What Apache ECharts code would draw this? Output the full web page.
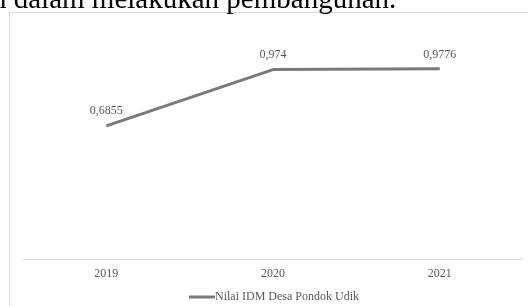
<!DOCTYPE html>
<html>
<head>
<meta charset="utf-8">
<script src="https://cdn.jsdelivr.net/npm/echarts@6/dist/echarts.min.js"></script>
<style>
  html, body { margin: 0; padding: 0; background: #fff; overflow: hidden; }
  #wrap { position: relative; width: 528px; height: 306px; overflow: hidden; }
  #caption {
    position: absolute; left: -8px; top: -16px;
    font-family: "Liberation Serif", serif; font-size: 29px; line-height: 28px;
    color: #000; white-space: nowrap;
  }
  #chart { position: absolute; left: 0; top: 0; width: 528px; height: 306px; }
</style>
</head>
<body>
<div id="wrap">
  <div id="chart"></div>
  <div id="caption">n dalam melakukan pembangunan.</div>
</div>
<script>
// data
const years = ['2019', '2020', '2021']
const idmValues = [0.6855, 0.974, 0.9776]
const seriesName = 'Nilai IDM Desa Pondok Udik'

const font = 'Liberation Serif'
const chart = echarts.init(document.getElementById('chart'))

chart.setOption({
  animation: false,
  graphic: [{
    type: 'rect',
    shape: { x: 9.5, y: 12.5, width: 700, height: 400 },
    style: { fill: 'none', stroke: '#d9d9d9', lineWidth: 1 },
    silent: true
  }],
  grid: { left: 23, right: 5, top: 25.5, bottom: 46.5 },
  legend: {
    data: [seriesName],
    left: 184,
    top: 286,
    icon: 'rect',
    itemWidth: 26,
    itemHeight: 3,
    textStyle: { fontFamily: font, fontSize: 12, color: '#595959', padding: [0, 0, 0, -5] }
  },
  xAxis: {
    type: 'category',
    data: years,
    boundaryGap: true,
    axisLine: { lineStyle: { color: '#d9d9d9' } },
    axisTick: { show: false },
    axisLabel: { fontFamily: font, fontSize: 12, color: '#595959', margin: 8 }
  },
  yAxis: {
    type: 'value',
    min: 0,
    max: 1.2,
    show: false,
    splitLine: { show: false }
  },
  series: [{
    name: seriesName,
    type: 'line',
    data: idmValues,
    symbol: 'circle',
    symbolSize: 1,
    showSymbol: true,
    lineStyle: { color: '#7a7a7a', width: 3 },
    itemStyle: { color: '#7a7a7a' },
    label: {
      show: true,
      position: 'top',
      distance: 8,
      fontFamily: font,
      fontSize: 12,
      color: '#595959',
      formatter: p => String(p.value).replace('.', ',')
    }
  }]
})
</script>
</body>
</html>
